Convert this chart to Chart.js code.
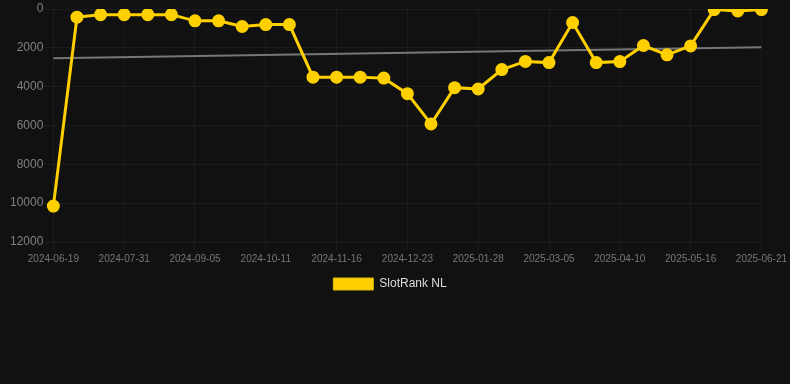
<!DOCTYPE html>
<html>
<head>
<meta charset="utf-8">
<script src="https://cdn.jsdelivr.net/npm/chart.js@4/dist/chart.umd.min.js"></script>
<style>
html,body{margin:0;padding:0;background:#111111;}
#wrap{width:790px;height:300px;position:relative;}
</style>
</head>
<body>
<div id="wrap"><canvas id="c"></canvas></div>
<script>
const categories = [
  "2024-06-19","2024-07-03","2024-07-17","2024-07-31","2024-08-12","2024-08-24",
  "2024-09-05","2024-09-17","2024-09-29","2024-10-11","2024-10-23","2024-11-04",
  "2024-11-16","2024-11-28","2024-12-10","2024-12-23","2025-01-04","2025-01-16",
  "2025-01-28","2025-02-09","2025-02-21","2025-03-05","2025-03-17","2025-03-29",
  "2025-04-10","2025-04-22","2025-05-04","2025-05-16","2025-05-28","2025-06-09",
  "2025-06-21"
];
const slotRankNL = [
  10150, 420, 290, 290, 290, 290, 610, 610, 900, 800, 800,
  3510, 3510, 3510, 3560, 4360, 5920, 4050, 4120, 3120, 2700,
  2760, 700, 2760, 2710, 1880, 2360, 1900, 30, 100, 30
];
const trend = [2540].concat(new Array(29).fill(null), [1970]);
const yTicks = [0, 2000, 4000, 6000, 8000, 10000, 12000];

const GRID = 'rgba(255,255,255,0.045)';
const FONT = 'Liberation Sans, Arial, sans-serif';

const legendShift = {
  id: 'legendShift',
  afterLayout(chart) {
    if (chart.legend) { chart.legend.left -= 8; chart.legend.right -= 8; }
  }
};

new Chart(document.getElementById('c'), {
  type: 'line',
  data: {
    labels: categories,
    datasets: [
      {
        label: 'SlotRank NL',
        data: slotRankNL,
        borderColor: '#FFD000',
        backgroundColor: '#FFD000',
        borderWidth: 3,
        pointRadius: 5,
        pointHoverRadius: 6,
        pointBackgroundColor: '#FFD000',
        pointBorderColor: '#FFD000',
        tension: 0
      },
      {
        label: 'trend',
        data: trend,
        borderColor: '#777777',
        borderWidth: 2,
        pointRadius: 0,
        spanGaps: true,
        fill: false
      }
    ]
  },
  plugins: [legendShift],
  options: {
    responsive: true,
    maintainAspectRatio: false,
    animation: false,
    layout: { padding: { left: 10, right: 4, top: 0, bottom: 0 } },
    plugins: {
      legend: {
        position: 'bottom',
        labels: {
          color: '#dddddd',
          font: { family: FONT, size: 12 },
          boxWidth: 40,
          generateLabels: (chart) => Chart.defaults.plugins.legend.labels.generateLabels(chart)
            .filter(it => it.text !== 'trend')
            .map(it => Object.assign(it, { lineWidth: 1, strokeStyle: '#E0B800' }))
        }
      },
      tooltip: { enabled: false }
    },
    scales: {
      x: {
        grid: {
          color: (ctx) => (ctx.index % 3 === 0 ? GRID : 'rgba(0,0,0,0)'),
          tickLength: 8
        },
        border: { display: false },
        ticks: {
          color: '#777777',
          font: { family: FONT, size: 10 },
          autoSkip: false,
          maxRotation: 0,
          callback: function(v, i) { return i % 3 === 0 ? categories[i] : ''; }
        }
      },
      y: {
        reverse: true,
        min: 0,
        max: 12000,
        afterBuildTicks: (axis) => { axis.ticks = yTicks.map(v => ({ value: v })); },
        grid: { color: GRID, tickLength: 10 },
        border: { display: false },
        ticks: {
          color: '#808080',
          padding: 0,
          font: { family: FONT, size: 12 },
          callback: (v) => String(v)
        }
      }
    }
  }
});
</script>
</body>
</html>
